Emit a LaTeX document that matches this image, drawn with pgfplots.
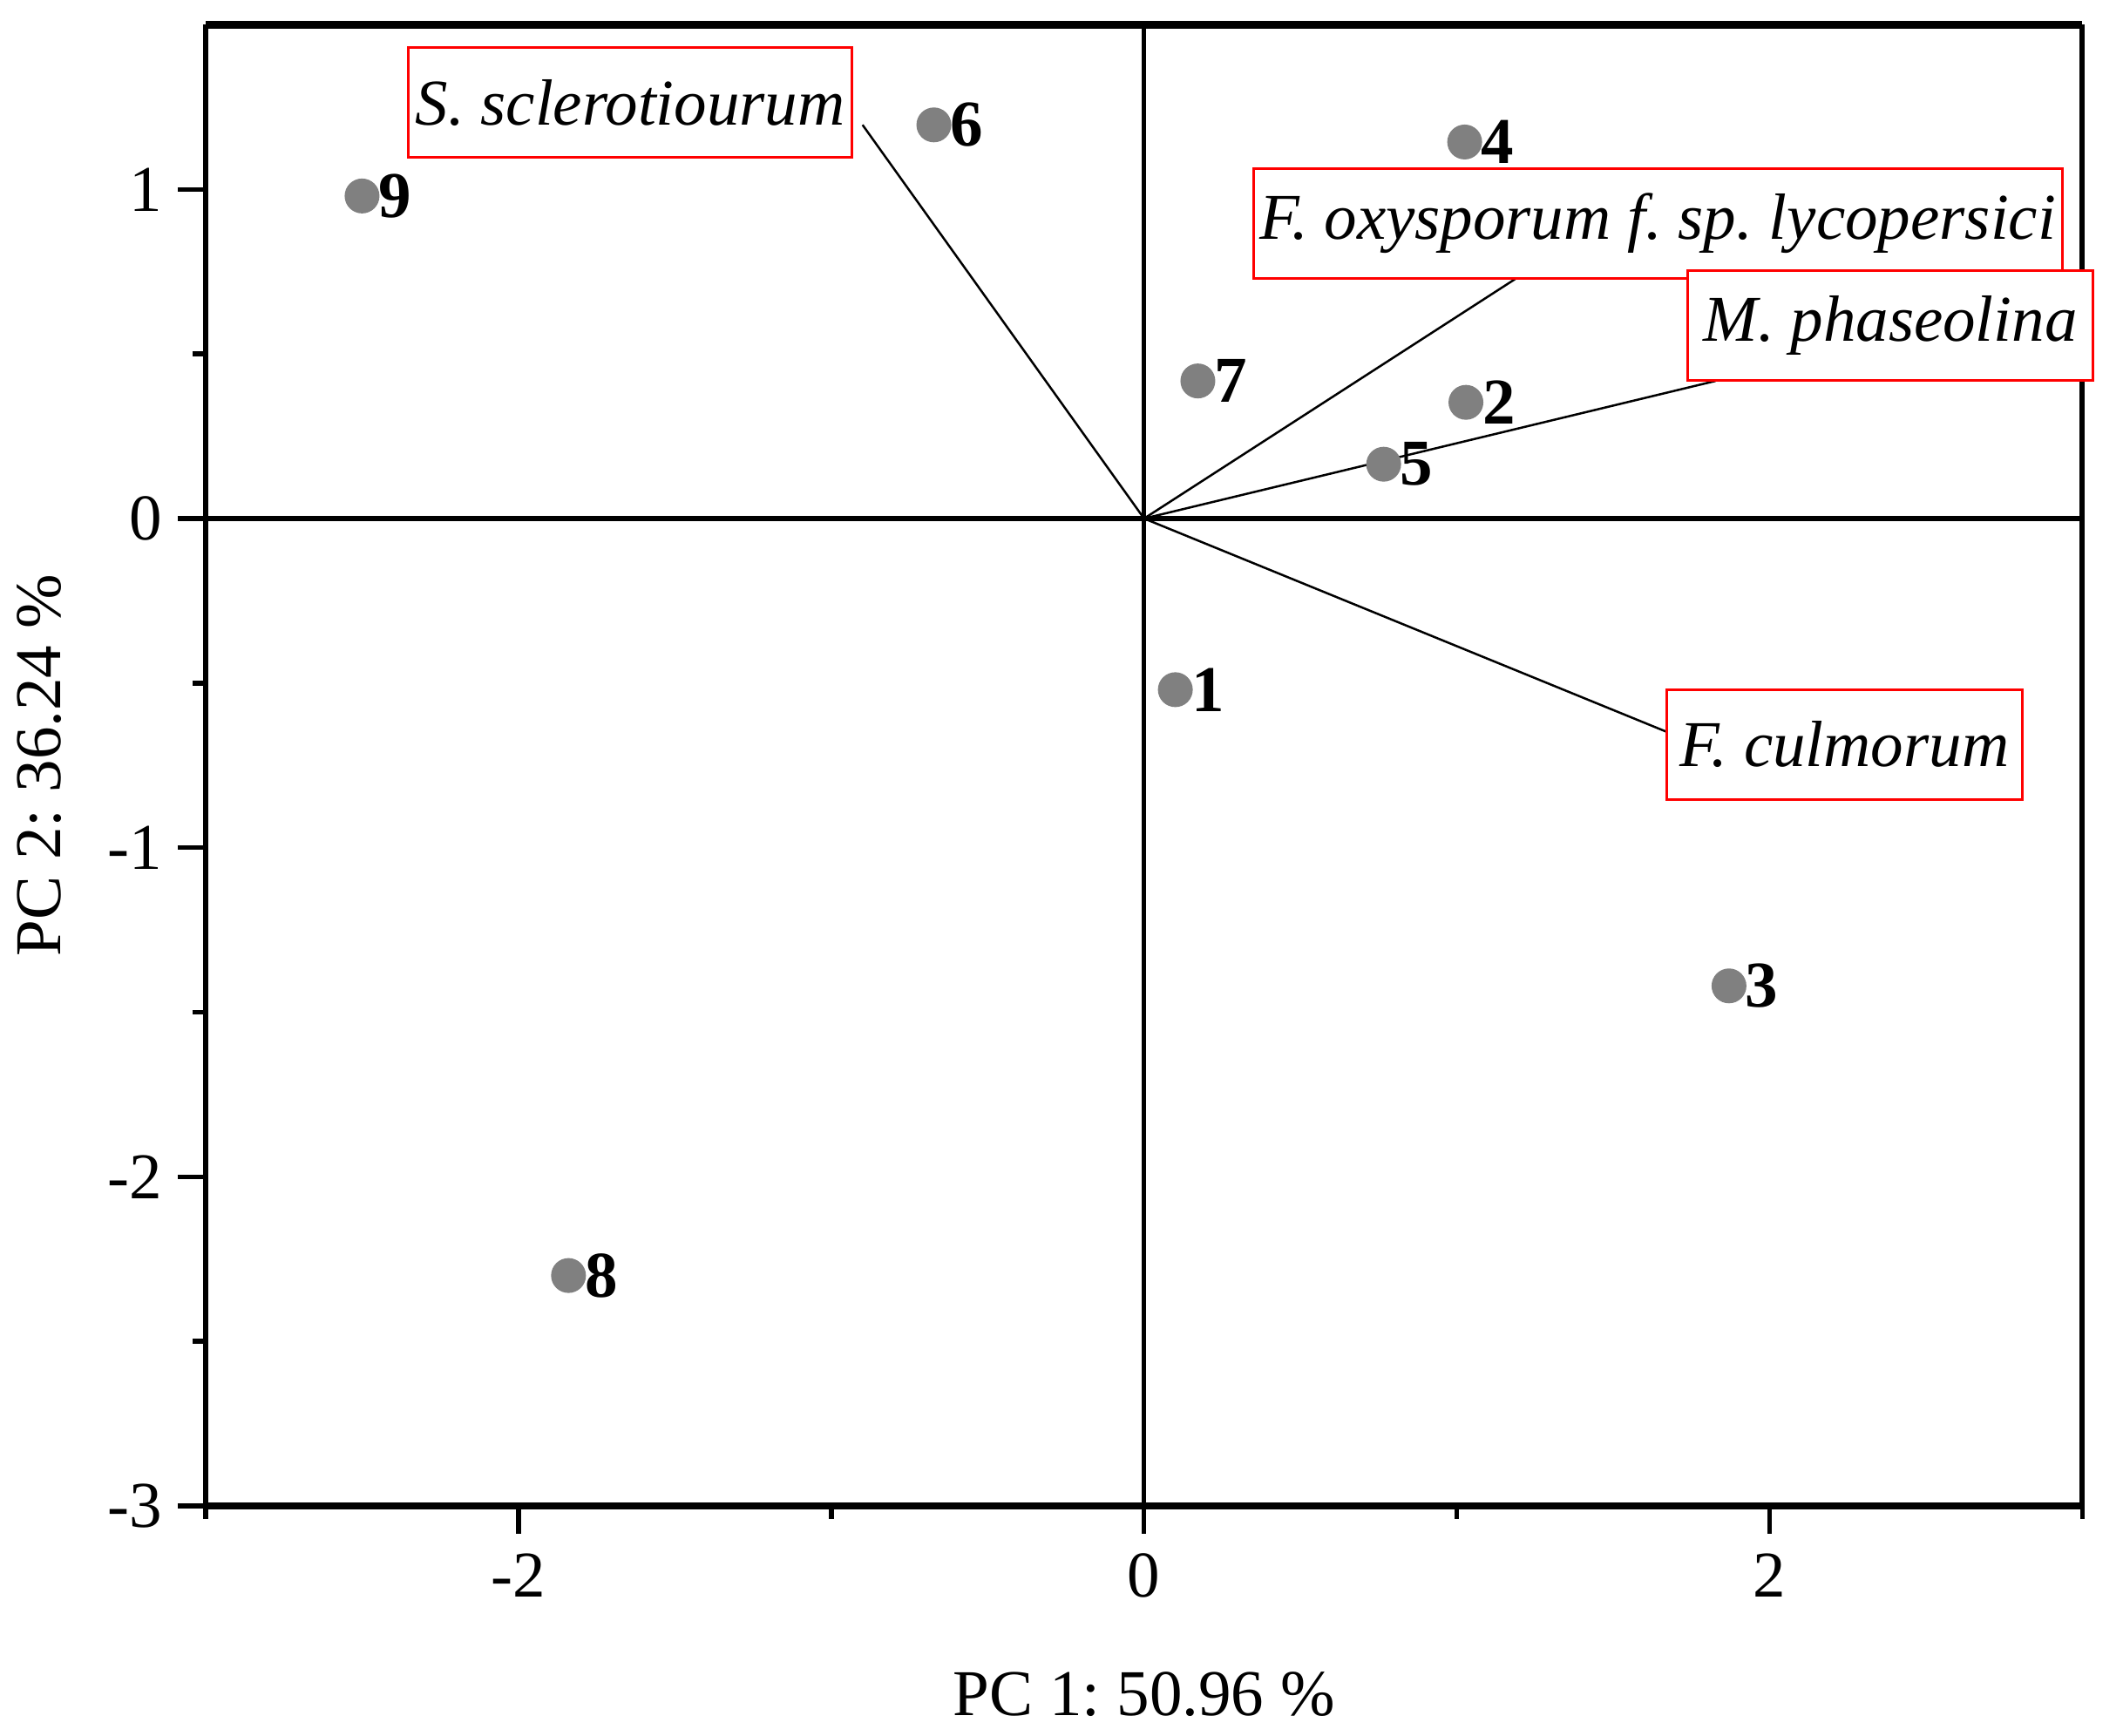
\documentclass[border=0pt]{standalone}
\usepackage{fontspec}
\setmainfont{Liberation Serif}
\usepackage{pgfplots}
\pgfplotsset{compat=1.18}
\definecolor{ptgray}{RGB}{128,128,128}

\begin{document}
\frenchspacing
\begin{tikzpicture}
\begin{axis}[
  scale only axis, width=430.7pt, height=339.9pt,
  xmin=-3, xmax=3, ymin=-3, ymax=1.5,
  xtick={-2,0,2}, xticklabels={-2,0,2},
  minor xtick={-3,-1,1,3},
  ytick={-3,-2,-1,0,1}, yticklabels={-3,-2,-1,0,1},
  minor ytick={-2.5,-1.5,-0.5,0.5},
  tick align=outside, xtick pos=bottom, ytick pos=left,
  major tick length=6.4pt, minor tick length=3pt,
  every tick/.style={black, line width=1.1pt},
  separate axis lines,
  x axis line style={line width=1.7pt},
  y axis line style={line width=1.2pt},
  tick label style={font=\fontsize{15}{18}\selectfont},
  xticklabel style={yshift=-1pt},
  xlabel={PC 1: 50.96 \%}, ylabel={PC 2: 36.24 \%},
  label style={font=\fontsize{15}{18}\selectfont},
  xlabel style={at={(axis description cs:0.5,-0.1274)}, anchor=center},
  ylabel style={at={(axis description cs:-0.0885,0.5)}, anchor=center},
  clip=false,
]
% zero lines
\addplot[black, line width=1.1pt] coordinates {(-3,0) (3,0)};
\addplot[black, line width=1.1pt] coordinates {(0,-3) (0,1.5)};
% loading vectors
\addplot[black, line width=0.5pt] coordinates {(0,0) (-0.900,1.196)};
\addplot[black, line width=0.5pt] coordinates {(0,0) (1.187,0.728)};
\addplot[black, line width=0.5pt] coordinates {(0,0) (1.827,0.418)};
\addplot[black, line width=0.5pt] coordinates {(0,0) (1.668,-0.647)};
% scores
\addplot[only marks, mark=*, mark size=3.8pt, color=ptgray,
  nodes near coords, point meta=explicit symbolic,
  nodes near coords style={anchor=west, inner sep=0pt, xshift=3.6pt,
    text=black, font=\fontsize{15}{18}\selectfont\bfseries}]
table[meta=lab] {
x      y      lab
0.10   -0.52  1
1.029  0.353  2
1.87   -1.42  3
1.025  1.144  4
0.766  0.165  5
-0.672 1.196  6
0.172  0.418  7
-1.84  -2.30  8
-2.50  0.98   9
};
\node[draw=red, line width=0.6pt, fill=white, inner sep=0pt,
  minimum width=101.7pt, minimum height=25.2pt,
  font=\fontsize{15}{18}\selectfont\itshape] at (axis cs:-1.643,1.263) {S. sclerotiourum};
\node[draw=red, line width=0.6pt, fill=white, inner sep=0pt,
  minimum width=185.5pt, minimum height=25.2pt,
  font=\fontsize{15}{18}\selectfont\itshape] at (axis cs:1.643,0.896) {F. oxysporum f. sp. lycopersici};
\node[draw=red, line width=0.6pt, fill=white, inner sep=0pt,
  minimum width=92.9pt, minimum height=25.2pt,
  font=\fontsize{15}{18}\selectfont\itshape] at (axis cs:2.386,0.586) {M. phaseolina};
\node[draw=red, line width=0.6pt, fill=white, inner sep=0pt,
  minimum width=81.5pt, minimum height=25.2pt,
  font=\fontsize{15}{18}\selectfont\itshape] at (axis cs:2.239,-0.686) {F. culmorum};
\end{axis}
\pgfresetboundingbox
\useasboundingbox (-47.2pt,-52.8pt) rectangle (440pt,345.6pt);
\end{tikzpicture}
\end{document}
